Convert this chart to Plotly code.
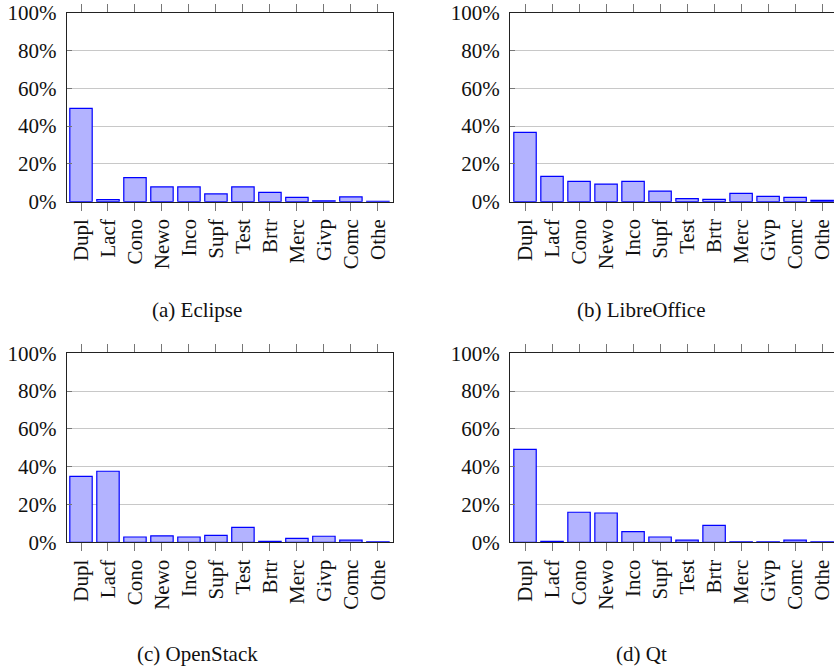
import plotly.graph_objects as go

categories = ["Dupl", "Lacf", "Cono", "Newo", "Inco", "Supf", "Test", "Brtr", "Merc", "Givp", "Comc", "Othe"]
eclipse = [49.4, 1.1, 12.7, 7.8, 7.8, 4.1, 7.8, 4.9, 2.3, 0.5, 2.6, 0.2]
libreoffice = [36.7, 13.4, 10.8, 9.3, 10.8, 5.6, 1.6, 1.2, 4.4, 2.8, 2.3, 0.7]
openstack = [34.9, 37.6, 2.8, 3.4, 2.8, 3.7, 7.9, 0.5, 2.1, 3.2, 1.1, 0.2]
qt = [49.2, 0.5, 15.9, 15.5, 5.6, 2.8, 1.1, 9.0, 0.2, 0.2, 1.1, 0.2]
captions = ["(a) Eclipse", "(b) LibreOffice", "(c) OpenStack", "(d) Qt"]
y_ticks = [0, 20, 40, 60, 80, 100]
y_tick_labels = ["0%", "20%", "40%", "60%", "80%", "100%"]

series = [eclipse, libreoffice, openstack, qt]

W, H = 834, 670
FONT = "Liberation Serif"

# panel geometry in window pixels: (left, right, top, bottom)
panels = [
    (66.7, 393.0, 12.7, 201.7),
    (510.0, 834.0, 12.7, 201.7),
    (66.7, 393.0, 353.3, 542.3),
    (510.0, 834.0, 353.3, 542.3),
]
xranges = [[-0.53, 11.56], [-0.556, 11.44], [-0.53, 11.56], [-0.556, 11.44]]
caption_pos = [(197, 310), (641, 310), (197, 654), (641, 654)]


def px(x):
    return min(max(x / W, 0.0), 1.0)


def py(y):
    return min(max(1 - y / H, 0.0), 1.0)


fig = go.Figure()
layout = dict(
    width=W, height=H,
    margin=dict(l=0, r=0, t=0, b=0, autoexpand=False),
    paper_bgcolor="white", plot_bgcolor="white",
    showlegend=False,
    font=dict(family=FONT, color="#111", size=20),
)

for i, vals in enumerate(series):
    n = "" if i == 0 else str(i + 1)
    fig.add_trace(go.Bar(
        x=categories, y=vals, width=0.83,
        marker=dict(color="#b3b3ff", line=dict(color="#0000ff", width=1.2)),
        xaxis="x" + n, yaxis="y" + n,
        hoverinfo="x+y",
    ))
    l, r, t, b = panels[i]
    right_panel = i in (1, 3)
    layout["xaxis" + n] = dict(
        domain=[px(l), px(r)], anchor="y" + n,
        type="category", range=xranges[i], automargin=False,
        showline=True, linecolor="#222", linewidth=1, mirror="ticks",
        ticks="outside", ticklen=8, tickcolor="#777", tickwidth=1,
        tickangle=-90, tickfont=dict(family=FONT, size=21, color="#111"),
        showgrid=False, zeroline=False, fixedrange=True,
    )
    layout["yaxis" + n] = dict(
        domain=[py(b), py(t)], anchor="x" + n,
        range=[0, 100], tickvals=y_ticks, ticktext=y_tick_labels,
        automargin=False,
        showline=True, linecolor="#222", linewidth=1,
        mirror=False if right_panel else "ticks",
        ticks="inside", ticklen=5, tickcolor="#777", tickwidth=1,
        showgrid=True, gridcolor="#c8c8c8", gridwidth=1,
        zeroline=False, tickfont=dict(family=FONT, size=21, color="#111"),
        ticklabelstandoff=5, fixedrange=True,
    )

annotations = []
for (cx, cy), text in zip(caption_pos, captions):
    annotations.append(dict(
        x=px(cx), y=py(cy), xref="paper", yref="paper",
        text=text, showarrow=False, xanchor="center", yanchor="middle",
        font=dict(family=FONT, size=21, color="#111"),
    ))
layout["annotations"] = annotations

fig.update_layout(**layout)
fig.write_html(
    "out.html",
    config={"displayModeBar": False},
    post_script="document.body.style.margin='0';document.body.style.overflow='hidden';",
)
